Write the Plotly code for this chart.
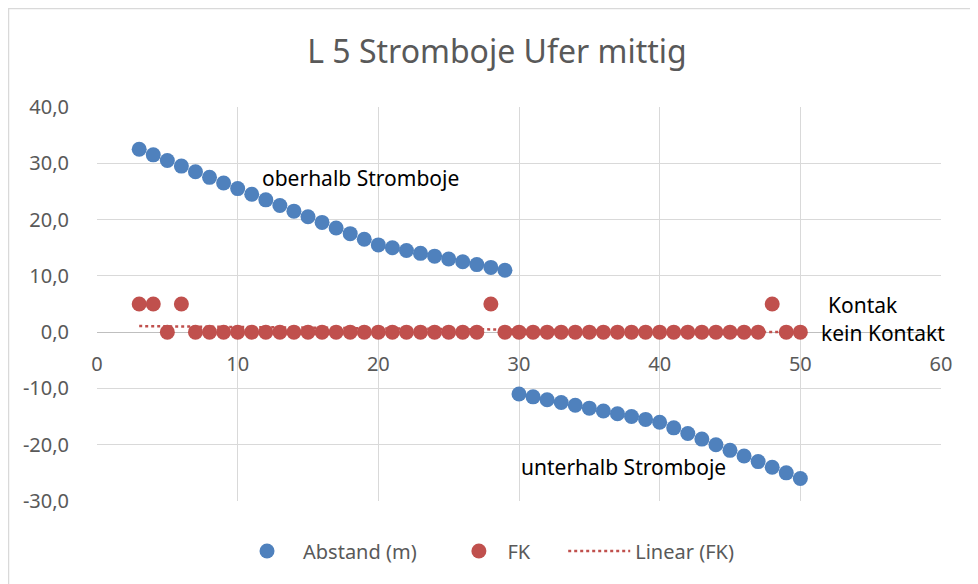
import numpy as np
import plotly.graph_objects as go

# ---- data ----
x_vals = list(range(3, 51))
abstand = [32.5, 31.5, 30.5, 29.5, 28.5, 27.5, 26.5, 25.5, 24.5, 23.5,
           22.5, 21.5, 20.5, 19.5, 18.5, 17.5, 16.5, 15.5, 15.0, 14.5,
           14.0, 13.5, 13.0, 12.5, 12.0, 11.5, 11.0,
           -11.0, -11.5, -12.0, -12.5, -13.0, -13.5, -14.0, -14.5, -15.0,
           -15.5, -16.0, -17.0, -18.0, -19.0, -20.0, -21.0, -22.0, -23.0,
           -24.0, -25.0, -26.0]
fk = [5, 5, 0, 5, 0, 0, 0, 0, 0, 0,
      0, 0, 0, 0, 0, 0, 0, 0, 0, 0,
      0, 0, 0, 0, 0, 5, 0, 0, 0, 0,
      0, 0, 0, 0, 0, 0, 0, 0, 0, 0,
      0, 0, 0, 0, 0, 5, 0, 0]
y_ticks = [-30, -20, -10, 0, 10, 20, 30, 40]
y_tick_labels = ["-30,0", "-20,0", "-10,0", "0,0", "10,0", "20,0", "30,0", "40,0"]
x_ticks = [0, 10, 20, 30, 40, 50, 60]
x_tick_labels = ["0", "10", "20", "30", "40", "50", "60"]

# linear trendline for FK (as Excel's "Linear (FK)")
slope, intercept = np.polyfit(x_vals, fk, 1)
trend_x = [x_vals[0], x_vals[-1]]
trend_y = [slope * v + intercept for v in trend_x]

BLUE = "#4F81BD"
RED = "#C0504D"
GREY_TXT = "#595959"
GRID = "#D9D9D9"
FONT = "Noto Sans"

fig = go.Figure()
fig.add_trace(go.Scatter(x=x_vals, y=abstand, mode="markers", name="Abstand (m)",
                         marker=dict(color=BLUE, size=15), legend="legend"))
fig.add_trace(go.Scatter(x=x_vals, y=fk, mode="markers", name="FK",
                         marker=dict(color=RED, size=15), legend="legend2"))
fig.add_trace(go.Scatter(x=trend_x, y=trend_y, mode="lines", name="Linear (FK)",
                         line=dict(color=RED, width=2.5, dash="dot"), legend="legend3"))

annots = [
    dict(x=11.6, y=27.35, text="oberhalb Stromboje"),
    dict(x=30.0, y=-24.0, text="unterhalb Stromboje"),
    dict(x=51.8, y=4.8, text="Kontak"),
    dict(x=51.35, y=-0.2, text="kein Kontakt"),
]
for a in annots:
    fig.add_annotation(x=a["x"], y=a["y"], text=a["text"], xanchor="left",
                       yanchor="middle", showarrow=False,
                       font=dict(family=FONT, size=21, color="#000000"))

leg_common = dict(orientation="h", xanchor="left", y=-0.127, yanchor="middle",
                  font=dict(family=FONT, size=20, color=GREY_TXT),
                  bgcolor="rgba(0,0,0,0)")

fig.update_layout(
    width=978, height=584,
    margin=dict(l=89, r=45, t=99, b=91),
    paper_bgcolor="white", plot_bgcolor="white",
    separators=",.",
    title=dict(text="L 5 Stromboje Ufer mittig", x=0.5, xanchor="center",
               y=1 - 44 / 584, yanchor="middle", yref="container",
               font=dict(family=FONT, size=32, color=GREY_TXT)),
    font=dict(family=FONT, size=20, color=GREY_TXT),
    showlegend=True,
    legend=dict(x=0.173 - 12 / 844, itemwidth=62, **leg_common),
    legend2=dict(x=0.427 - 7 / 844, itemwidth=47, **leg_common),
    legend3=dict(x=0.55 + 2 / 844, itemwidth=62, **leg_common),
    xaxis=dict(range=[0, 60], tickvals=x_ticks, ticktext=x_tick_labels,
               showgrid=True, gridcolor=GRID, gridwidth=1,
               zeroline=False, showline=False,
               anchor="free", position=3 / 7, ticks="",
               ticklabelstandoff=18,
               tickfont=dict(family=FONT, size=20, color=GREY_TXT)),
    yaxis=dict(range=[-30, 40], tickvals=y_ticks, ticktext=y_tick_labels,
               showgrid=True, gridcolor=GRID, gridwidth=1,
               zeroline=True, zerolinecolor="#BFBFBF", zerolinewidth=1,
               showline=False, ticks="", ticklabelstandoff=27,
               tickfont=dict(family=FONT, size=20, color=GREY_TXT)),
)

# outer chart border
fig.add_shape(type="rect", xref="paper", yref="paper",
              x0=(8.5 - 97) / 844, x1=(995 - 97) / 844,
              y0=(501 - 600) / 394, y1=1 + (107 - 8.5) / 394,
              line=dict(color=GRID, width=1.5), fillcolor="rgba(0,0,0,0)", layer="below")

fig.write_html("out.html")
